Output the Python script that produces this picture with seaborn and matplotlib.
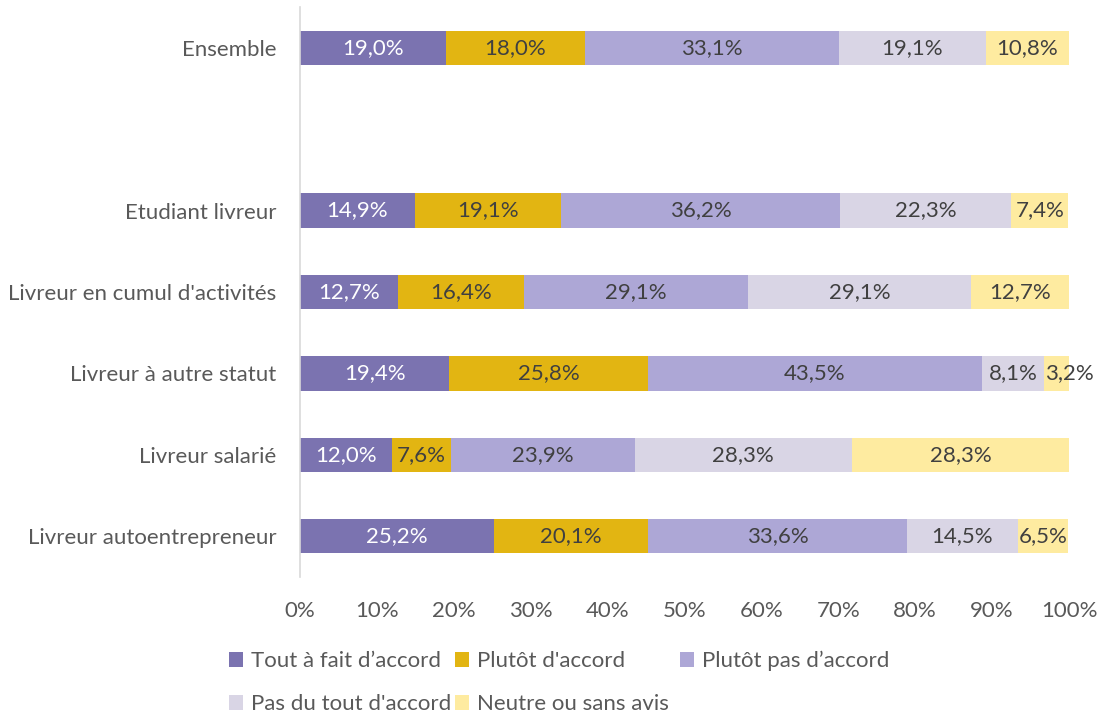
import matplotlib
matplotlib.use("Agg")
import matplotlib.pyplot as plt
from matplotlib.patches import Patch
import numpy as np
import pandas as pd
import seaborn as sns

# Survey categories (blank row separates the overall figure from the sub-groups)
categories = ["Ensemble", " ", "Etudiant livreur", "Livreur en cumul d'activités",
              "Livreur à autre statut", "Livreur salarié", "Livreur autoentrepreneur"]
groups = ["Ensemble", "Etudiant livreur", "Livreur en cumul d'activités",
          "Livreur à autre statut", "Livreur salarié", "Livreur autoentrepreneur"]

series_names = ["Tout à fait d’accord", "Plutôt d'accord", "Plutôt pas d’accord",
                "Pas du tout d'accord", "Neutre ou sans avis"]

tout_a_fait = [19.0, 14.9, 12.7, 19.4, 12.0, 25.2]
plutot_accord = [18.0, 19.1, 16.4, 25.8, 7.6, 20.1]
plutot_pas = [33.1, 36.2, 29.1, 43.5, 23.9, 33.6]
pas_du_tout = [19.1, 22.3, 29.1, 8.1, 28.3, 14.5]
neutre = [10.8, 7.4, 12.7, 3.2, 28.3, 6.5]

x_ticks = [0, 10, 20, 30, 40, 50, 60, 70, 80, 90, 100]
x_tick_labels = ["0%", "10%", "20%", "30%", "40%", "50%", "60%", "70%", "80%", "90%", "100%"]

colors = ["#7B73B0", "#E2B512", "#ADA7D6", "#D9D5E5", "#FEEBA0"]
label_colors = ["white", "#404040", "#404040", "#404040", "#404040"]
text_grey = "#595959"
FS = 16

sns.set_theme(style="white")
plt.rcParams["font.family"] = ["Lato", "DejaVu Sans"]

values = np.array([tout_a_fait, plutot_accord, plutot_pas, pas_du_tout, neutre])
cum = np.cumsum(values, axis=0)
starts = cum - values

fig = plt.figure(figsize=(11.03, 7.17), dpi=100)
ax = fig.add_axes([300 / 1103, 1 - 577 / 717, 769 / 1103, 570 / 717])

# Stacked bars: draw cumulative totals from the outermost segment inwards
for i in range(len(series_names) - 1, -1, -1):
    df = pd.DataFrame({"group": groups, "value": cum[i]})
    sns.barplot(data=df, x="value", y="group", order=categories, orient="h",
                color=colors[i], saturation=1, width=0.42, linewidth=0, ax=ax)

# Value labels centred in each segment; a very thin last segment gets its
# label starting at the segment edge so it runs past the bar end
for i in range(len(series_names)):
    for j, g in enumerate(groups):
        yy = categories.index(g)
        v = values[i, j]
        txt = f"{v:.1f}%".replace(".", ",")
        if i == len(series_names) - 1 and v < 4:
            ax.text(starts[i, j] + 0.1, yy, txt, ha="left", va="center",
                    color=label_colors[i], fontsize=FS, clip_on=False)
        else:
            ax.text(starts[i, j] + v / 2, yy, txt, ha="center", va="center",
                    color=label_colors[i], fontsize=FS)

ax.set_xlim(0, 100)
ax.set_ylim(len(categories) - 0.5, -0.5)
ax.set_xticks(x_ticks)
ax.set_xticklabels(x_tick_labels)
ax.set_xlabel("")
ax.set_ylabel("")
ax.tick_params(axis="x", length=0, pad=17, labelsize=FS, labelcolor=text_grey)
ax.tick_params(axis="y", length=0, pad=17, labelsize=FS, labelcolor=text_grey)
for s in ["top", "right", "bottom"]:
    ax.spines[s].set_visible(False)
ax.spines["left"].set_color("#D9D9D9")
ax.spines["left"].set_linewidth(1.2)
ax.grid(False)

# Legend in two rows laid out as three columns
handles = [Patch(facecolor=c, edgecolor="none") for c in colors]
columns = [([0, 3], 229), ([1, 4], 455), ([2], 680)]
for idx, xpix in columns:
    fig.legend([handles[k] for k in idx], [series_names[k] for k in idx],
               loc="upper left", bbox_to_anchor=(xpix / 1103, 1 - 651 / 717),
               frameon=False, fontsize=FS, labelcolor=text_grey,
               handlelength=0.65, handleheight=0.65, handletextpad=0.35,
               labelspacing=1.05, borderpad=0, borderaxespad=0)

fig.savefig("out.png", dpi=100)
